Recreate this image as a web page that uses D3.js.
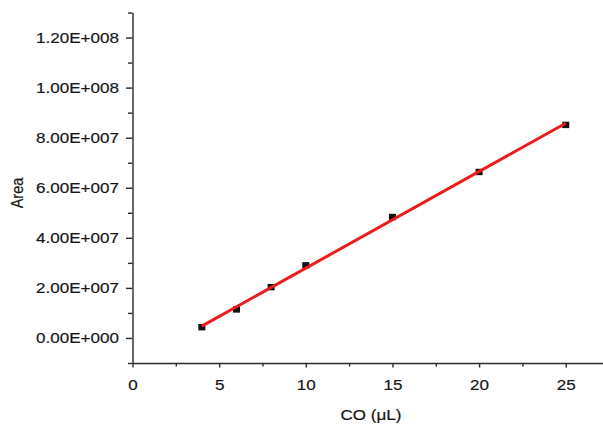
<!DOCTYPE html>
<html>
<head>
<meta charset="utf-8">
<script src="https://cdn.jsdelivr.net/npm/d3@7"></script>
<style>
  html, body { margin: 0; padding: 0; background: #fff; }
  svg { display: block; }
  text { font-family: "Liberation Sans", Arial, sans-serif; fill: #161616; stroke: #161616; stroke-width: 0.2px; }
</style>
</head>
<body>
<svg id="chart" width="603" height="425"></svg>
<script>
// CO calibration: injected volume (µL) vs. peak area
const volumes = [4, 6, 8, 10, 15, 20, 25];
const areas = [4.3e6, 11.4e6, 20.3e6, 29.0e6, 48.3e6, 66.3e6, 85.1e6];

const xTicks = [0, 5, 10, 15, 20, 25];
const xMinorTicks = [2.5, 7.5, 12.5, 17.5, 22.5];
const yTicks = [0, 2e7, 4e7, 6e7, 8e7, 1e8, 1.2e8];
const yTickLabels = ["0.00E+000", "2.00E+007", "4.00E+007", "6.00E+007",
                     "8.00E+007", "1.00E+008", "1.20E+008"];
const yMinorTicks = [-1e7, 1e7, 3e7, 5e7, 7e7, 9e7, 1.1e8, 1.3e8];

const xTitle = "CO (\u03bcL)";
const yTitle = "Area";

const svg = d3.select("#chart");
const axisColor = "#2a2a2a";
const stretch = 1.1; // glyphs are drawn slightly wide

const x = d3.scaleLinear().domain([0, 27.15]).range([132.5, 603]);
const y = d3.scaleLinear().domain([-1e7, 1.3e8]).range([363, 12.5]);

// widen a text element horizontally about its anchor point
function widen(sel, s) {
  sel.each(function () {
    const t = d3.select(this);
    const ax = +(t.attr("x") || 0);
    t.attr("transform", `translate(${ax * (1 - s)},0) scale(${s},1)`);
  });
}

// minor ticks
svg.append("g")
  .attr("transform", `translate(0,${y(-1e7)})`)
  .call(d3.axisBottom(x).tickValues(xMinorTicks).tickSize(3.5).tickFormat(""))
  .call(g => g.select(".domain").remove());
svg.append("g")
  .attr("transform", `translate(${x(0)},0)`)
  .call(d3.axisLeft(y).tickValues(yMinorTicks).tickSize(4.5).tickFormat(""))
  .call(g => g.select(".domain").remove());

// x axis
const xAxis = svg.append("g")
  .attr("transform", `translate(0,${y(-1e7)})`)
  .call(d3.axisBottom(x).tickValues(xTicks).tickSize(4.5).tickSizeOuter(0).tickPadding(11));

// y axis
const yAxis = svg.append("g")
  .attr("transform", `translate(${x(0)},0)`)
  .call(d3.axisLeft(y).tickValues(yTicks).tickSize(6.5).tickSizeOuter(0).tickPadding(7)
    .tickFormat((d, i) => yTickLabels[i]));

svg.selectAll(".domain, .tick line")
  .attr("stroke", axisColor).attr("stroke-width", 1.4);
svg.selectAll(".tick text")
  .attr("fill", "#161616").attr("font-family", null).attr("font-size", 15.5);
widen(svg.selectAll(".tick text"), stretch);

// axis titles
svg.append("text")
  .attr("x", 371).attr("y", 420.5)
  .attr("text-anchor", "middle").attr("font-size", 15.5)
  .text(xTitle)
  .call(widen, stretch);
svg.append("text")
  .attr("transform", "translate(23,193) rotate(-90) scale(1,1.12)")
  .attr("text-anchor", "middle").attr("font-size", 14.5)
  .text(yTitle);

// markers
svg.append("g").selectAll("rect")
  .data(volumes.map((v, i) => [v, areas[i]]))
  .join("rect")
  .attr("x", d => x(d[0]) - 3.5)
  .attr("y", d => y(d[1]) - 3.2)
  .attr("width", 7).attr("height", 6.4)
  .attr("fill", "#111");

// least-squares fit through the measured points
const mx = d3.mean(volumes), my = d3.mean(areas);
const sxy = d3.sum(volumes, (v, i) => (v - mx) * (areas[i] - my));
const sxx = d3.sum(volumes, v => (v - mx) ** 2);
const slope = sxy / sxx, intercept = my - slope * mx;
const fitX = d3.extent(volumes);
svg.append("path")
  .datum(fitX.map(v => [v, intercept + slope * v]))
  .attr("d", d3.line().x(d => x(d[0])).y(d => y(d[1])))
  .attr("fill", "none").attr("stroke", "#ec1c1c").attr("stroke-width", 3);
</script>
</body>
</html>
